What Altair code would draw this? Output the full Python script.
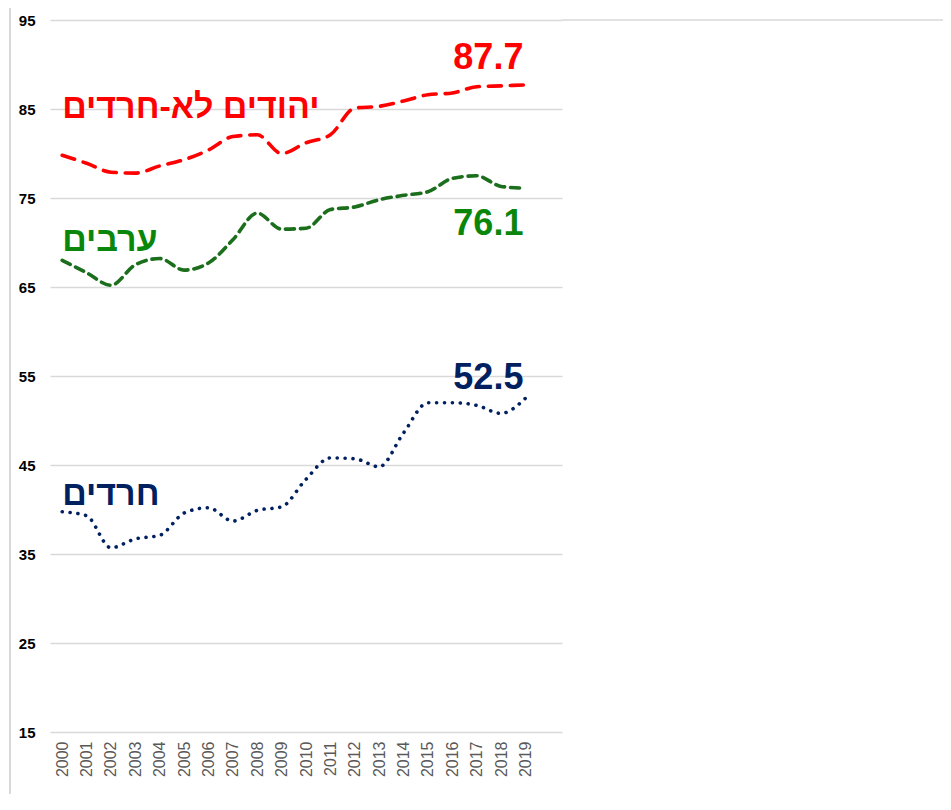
import altair as alt
import pandas as pd

years = list(range(2000, 2020))
jews_non_haredi = [79.8, 78.9, 77.9, 77.8, 78.6, 79.3, 80.4, 81.9, 82.1, 80.0,
                   81.2, 82.1, 85.1, 85.3, 85.9, 86.6, 86.8, 87.5, 87.6, 87.7]
arabs = [68.0, 66.6, 65.2, 67.5, 68.2, 66.9, 67.7, 70.3, 73.3, 71.5,
         71.6, 73.7, 74.0, 74.8, 75.3, 75.7, 77.2, 77.5, 76.3, 76.1]
haredim = [39.75, 39.3, 35.7, 36.7, 37.1, 39.6, 40.2, 38.7, 39.9, 40.3,
           43.4, 45.8, 45.7, 44.8, 48.6, 52.0, 52.0, 51.7, 50.8, 52.5]

series_names = ["יהודים לא-חרדים", "ערבים", "חרדים"]
line_colors = ["#FF0000", "#1B6E1B", "#002060"]
text_colors = ["#FF0000", "#0A860A", "#002060"]

rows = []
for name, vals in zip(series_names, [jews_non_haredi, arabs, haredim]):
    for y, v in zip(years, vals):
        rows.append({"year": y, "value": v, "series": name})
df = pd.DataFrame(rows)

# annotation texts
name_label_y = [84.0, 69.1, 40.5]
value_labels = ["87.7", "76.1", "52.5"]
value_label_y = [89.5, 70.85, 53.55]

names_df = pd.DataFrame({"text": series_names, "year": [2000] * 3,
                         "y": name_label_y, "color": text_colors})
vals_df = pd.DataFrame({"text": value_labels, "year": [2019] * 3,
                        "y": value_label_y, "color": text_colors})

xscale = alt.Scale(domain=[1999.5, 2020.5], nice=False, zero=False)
yscale = alt.Scale(domain=[15, 95], nice=False, zero=False)

x_axis = alt.Axis(values=years, format="d", labelAngle=-90, labelFontSize=16,
                  labelColor="#595959", labelFont="Liberation Sans", ticks=False,
                  domain=False, grid=False, labelPadding=9, title=None,
                  labelOverlap=False, labelBound=False, labelFlush=False)
y_axis = alt.Axis(values=list(range(15, 96, 10)), labelFontSize=15, labelFontWeight="bold",
                  labelColor="#000000", labelFont="Liberation Sans", ticks=False,
                  domain=False, grid=True, gridColor="#d9d9d9", gridWidth=1.3,
                  labelPadding=15, title=None)

X = alt.X("year:Q", scale=xscale, axis=x_axis)


def line_for(name, color, dash, width, cap):
    return alt.Chart(df[df.series == name]).mark_line(
        color=color, strokeDash=dash, strokeWidth=width, strokeCap=cap,
        interpolate="monotone"
    ).encode(
        x=X,
        y=alt.Y("value:Q", scale=yscale, axis=y_axis),
    )

red_line = line_for(series_names[0], line_colors[0], [13, 9], 3.6, "round")
green_line = line_for(series_names[1], line_colors[1], [9, 6], 3.6, "round")
navy_line = line_for(series_names[2], line_colors[2], [0.1, 7.8], 3.6, "round")

name_text = alt.Chart(names_df).mark_text(
    align="left", baseline="alphabetic", font="Liberation Sans",
    fontWeight="bold", fontSize=34
).encode(
    x=X,
    y=alt.Y("y:Q", scale=yscale, axis=y_axis),
    text="text:N",
    color=alt.Color("color:N", scale=None),
)

value_text = alt.Chart(vals_df).mark_text(
    align="right", baseline="alphabetic", font="Liberation Sans",
    fontWeight="bold", fontSize=36, dx=-2
).encode(
    x=X,
    y=alt.Y("y:Q", scale=yscale, axis=y_axis),
    text="text:N",
    color=alt.Color("color:N", scale=None),
)

frame_left = alt.Chart(pd.DataFrame({"a": [0]})).mark_rule(
    color="#d9d9d9", strokeWidth=2
).encode(x=alt.value(-40), y=alt.value(-12), y2=alt.value(790))

top_grid_ext = alt.Chart(pd.DataFrame({"a": [0]})).mark_rule(
    color="#d9d9d9", strokeWidth=1.3
).encode(x=alt.value(512), x2=alt.value(893), y=alt.value(0))

chart = alt.layer(
    frame_left, top_grid_ext, red_line, green_line, navy_line, name_text, value_text
).properties(
    width=512, height=712,
    autosize=alt.AutoSizeParams(type="none"),
    padding={"left": 42, "top": 12, "right": 381, "bottom": 62},
    background="white",
).configure_view(stroke=None).configure_axisX(labelOverlap=False)

chart.save("out.html", embed_options={"renderer": "svg", "actions": False})
